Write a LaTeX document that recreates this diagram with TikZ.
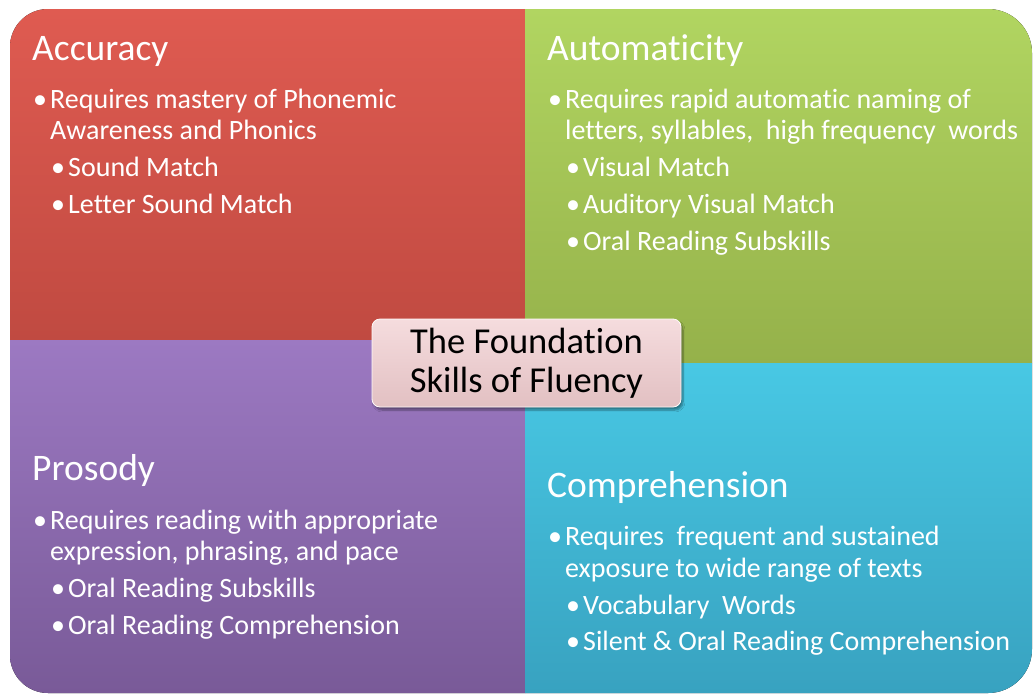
\documentclass[tikz,border=0pt]{standalone}
\usepackage{fontspec}
\setmainfont{Carlito}[Ligatures=NoCommon]
\usetikzlibrary{shadows.blur}

\definecolor{acctop}{RGB}{223,91,81}
\definecolor{accbot}{RGB}{192,74,65}
\definecolor{auttop}{RGB}{177,213,97}
\definecolor{autbot}{RGB}{149,177,74}
\definecolor{protop}{RGB}{156,121,194}
\definecolor{probot}{RGB}{121,90,152}
\definecolor{comtop}{RGB}{72,200,228}
\definecolor{combot}{RGB}{56,162,192}
\definecolor{boxtop}{RGB}{245,220,222}
\definecolor{boxbot}{RGB}{226,192,194}

\newcommand{\bul}{\makebox[17pt][l]{\textbullet}}

\tikzset{
  head/.style={anchor=base west, inner sep=0pt, text=white, font=\fontsize{37.5}{40}\selectfont},
  item/.style={anchor=base west, inner sep=0pt, text=white, font=\fontsize{28}{30}\selectfont},
}

\begin{document}
\begin{tikzpicture}[x=1pt,y=-1pt]
  \useasboundingbox (0,0) rectangle (1033,694);

  % the four quarters
  \fill[top color=acctop, bottom color=accbot]
    (10,340) [rounded corners=38pt] -- (10,9) [sharp corners] -- (525,9) -- (525,340) -- cycle;
  \fill[top color=auttop, bottom color=autbot]
    (525,9) [rounded corners=44pt] -- (1032,9) [sharp corners] -- (1032,363) -- (525,363) -- cycle;
  \fill[top color=protop, bottom color=probot]
    (525,340) -- (10,340) [rounded corners=38pt] -- (10,693) [sharp corners] -- (525,693) -- cycle;
  \fill[top color=comtop, bottom color=combot]
    (525,363) -- (1032,363) [rounded corners=44pt] -- (1032,693) [sharp corners] -- (525,693) -- cycle;

  % Accuracy
  \node[head] (acc) at (32,60) {Accuracy};
  \node[item] (acc1) at (33,108) {\bul Requires mastery of Phonemic};
  \node[item] (acc1b) at (50,139) {Awareness and Phonics};
  \node[item] (acc2) at (51,176) {\bul Sound Match};
  \node[item] (acc3) at (51,213) {\bul Letter Sound Match};

  % Automaticity
  \node[head] (aut) at (547,60) {Automaticity};
  \node[item] (aut1) at (548,108) {\bul Requires rapid automatic naming of};
  \node[item] (aut1b) at (565,139) {letters, syllables, \ high frequency \ words};
  \node[item] (aut2) at (566,176) {\bul Visual Match};
  \node[item] (aut3) at (566,213) {\bul Auditory Visual Match};
  \node[item] (aut4) at (566,250) {\bul Oral Reading Subskills};

  % Prosody
  \node[head] (pro) at (32,480) {Prosody};
  \node[item] (pro1) at (33,529) {\bul Requires reading with appropriate};
  \node[item] (pro1b) at (50,560) {expression, phrasing, and pace};
  \node[item] (pro2) at (51,597) {\bul Oral Reading Subskills};
  \node[item] (pro3) at (51,634) {\bul Oral Reading Comprehension};

  % Comprehension
  \node[head] (com) at (547,497) {Comprehension};
  \node[item] (com1) at (548,545) {\bul Requires \ frequent and sustained};
  \node[item] (com1b) at (565,577) {exposure to wide range of texts};
  \node[item] (com2) at (566,614) {\bul Vocabulary \ Words};
  \node[item] (com3) at (566,650) {\bul Silent \& Oral Reading Comprehension};

  % centre label
  \node[draw=white!85!boxtop, line width=0.8pt, rounded corners=8pt,
        top color=boxtop, bottom color=boxbot,
        blur shadow={shadow xshift=2pt, shadow yshift=-3pt, shadow blur steps=6},
        minimum width=309pt, minimum height=88pt, align=center,
        font=\fontsize{36.5}{39}\selectfont] (fluency) at (526.5,363)
    {The Foundation\\Skills of Fluency};
\end{tikzpicture}
\end{document}
